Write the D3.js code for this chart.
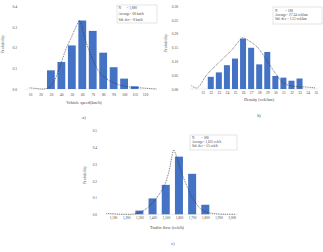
<!DOCTYPE html>
<html><head><meta charset="utf-8">
<script src="https://cdn.jsdelivr.net/npm/d3@7"></script>
<style>body{margin:0;background:#fff}svg{display:block}text{font-family:"Liberation Serif","DejaVu Serif",serif;fill:#444}</style>
</head><body><svg id="c" width="323" height="252"></svg>
<script>
// Panel a: vehicle speed
const speedTicks = [10,20,30,40,50,60,70,80,90,100,110,120];
const speedCats = [30,40,50,60,70,80,90,100,110];
const speedProb = [0.09,0.13,0.21,0.33,0.28,0.175,0.105,0.05,0.013];
const speedCurveX = [9.5,13,22.7,27.5,32.3,38.7,45,49.7,55,57.4,62.7,69,76.6,86,98.8,115,131];
const speedCurveY = [0.006,0.004,0.0,0.006,0.03,0.11,0.2,0.25,0.31,0.33,0.24,0.155,0.08,0.04,0.015,0.006,0.0];
const speedYTicks = ["0.0","0.1","0.2","0.3","0.4"];
const speedLegend = ["N", "= 1,880", "Average= 60 km/h", "Std. dev = 8 km/h"];

// Panel b: density
const densTicks = [21,22,23,24,25,26,27,28,29,30,31,32,33,34,35];
const densCats = [22,23,24,25,26,27,28,29,30,31,32,33];
const densProb = [0.044,0.06,0.086,0.11,0.182,0.149,0.089,0.134,0.047,0.041,0.03,0.038];
const densCurveX = [19.6,20.3,21.5,22.9,24.6,25.8,26.0,27.7,28.9,30.0,31.0,32.2,33.9,34.9];
const densCurveY = [0.012,0.004,0.051,0.093,0.141,0.183,0.185,0.153,0.105,0.057,0.022,0.01,0.007,0.004];
const densYTicks = ["0.00","0.05","0.10","0.15","0.20","0.25","0.30"];
const densLegend = ["N", "= 188", "Average= 27.34 veh/km", "Std. dev = 1.51 veh/km"];

// Panel c: traffic flow
const flowTicks = [1100,1200,1300,1400,1500,1600,1700,1800,1900,2000];
const flowCats = [1300,1400,1500,1600,1700,1800];
const flowProb = [0.022,0.095,0.176,0.345,0.242,0.057];
const flowCurveX = [1050,1175,1275,1350,1425,1487,1525,1550,1560,1580,1612,1650,1712,1775,1850,2025];
const flowCurveY = [0.006,0.0,0.004,0.032,0.093,0.168,0.259,0.36,0.384,0.35,0.269,0.188,0.087,0.026,0.006,0.0];
const flowYTicks = ["0.0","0.1","0.2","0.3","0.4","0.5"];
const flowLegend = ["N", "= 188", "Average= 1,625 veh/h", "Std. dev = 55 veh/h"];

const svg = d3.select("#c");
const fmt = d3.format(",");

function panel(o){
  const g = svg.append("g");
  const x = d3.scaleLinear().domain(o.xd).range(o.xr);
  const y = d3.scaleLinear().domain(o.yd).range(o.yr);
  // baseline
  g.append("line").attr("x1",o.axisX[0]).attr("x2",o.axisX[1])
    .attr("y1",y(0)).attr("y2",y(0)).attr("stroke","#d9d9d9").attr("stroke-width",0.5);
  // y ticks
  const yt = o.yTicks.map(Number);
  g.append("g").attr("transform",`translate(${o.yLabelX},0)`)
    .call(d3.axisLeft(y).tickValues(yt).tickSize(0).tickFormat((d,i)=>o.yTicks[i]))
    .call(a=>a.select(".domain").remove())
    .call(a=>a.selectAll("text").attr("font-size",o.fs).attr("fill","#555").attr("font-family","Liberation Serif").attr("dy","0.35em").attr("x",0));
  // x ticks
  g.append("g").attr("transform",`translate(0,${o.xLabelY})`)
    .call(d3.axisBottom(x).tickValues(o.xTicks).tickSize(0).tickFormat(o.xfmt))
    .call(a=>a.select(".domain").remove())
    .call(a=>a.selectAll("text").attr("font-size",o.fs).attr("fill","#555").attr("font-family","Liberation Serif").attr("dy","0.7em").attr("y",0));
  // bars
  g.selectAll("rect.bar").data(o.cats).join("rect")
    .attr("x",d=>x(d)-o.bw/2).attr("width",o.bw)
    .attr("y",(d,i)=>y(o.vals[i])).attr("height",(d,i)=>y(0)-y(o.vals[i]))
    .attr("fill","#4472c4");
  // curve
  const pts = o.cx.map((v,i)=>[x(v),y(o.cy[i])]);
  g.append("path").attr("d",d3.line().curve(d3.curveCatmullRom)(pts))
    .attr("fill","none").attr("stroke","#333").attr("stroke-width",0.7).attr("stroke-dasharray","0.9,0.9");
  // legend
  const L = o.leg;
  g.append("rect").attr("x",L.x).attr("y",L.y).attr("width",L.w).attr("height",L.h)
    .attr("fill","#fff").attr("stroke","#bfbfbf").attr("stroke-width",0.4);
  g.append("text").attr("x",L.tx).attr("y",L.ly[0]).attr("font-size",L.fs).text(o.legend[0]);
  g.append("text").attr("x",L.eqx).attr("y",L.ly[0]).attr("font-size",L.fs).text(o.legend[1]);
  g.append("text").attr("x",L.tx).attr("y",L.ly[1]).attr("font-size",L.fs).text(o.legend[2]);
  g.append("text").attr("x",L.tx).attr("y",L.ly[2]).attr("font-size",L.fs).text(o.legend[3]);
  // y title
  g.append("text").attr("transform",`translate(${o.ytX},${o.ytY}) rotate(-90)`)
    .attr("text-anchor","middle").attr("font-size",4).text("Probability");
  // x title
  g.append("text").attr("x",o.xtX).attr("y",o.xtY).attr("text-anchor","middle").attr("font-size",4.3).text(o.xTitle);
  g.append("text").attr("x",o.lbX).attr("y",o.lbY).attr("text-anchor","middle").attr("font-size",4.3).text(o.label);
}

panel({xd:[10,120],xr:[30,145],yd:[0,0.4],yr:[89,6],axisX:[25,157],yLabelX:17,xLabelY:93,fs:3.6,
  xTicks:speedTicks,xfmt:d=>d,yTicks:speedYTicks,cats:speedCats,vals:speedProb,bw:7.8,
  cx:speedCurveX,cy:speedCurveY,legend:speedLegend,
  leg:{x:117,y:5,w:40,h:18,tx:118.5,eqx:126.5,ly:[9,15,20.5],fs:3.4},
  ytX:4,ytY:44,xtX:84,xtY:104,xTitle:"Vehicle speed(km/h)",lbX:84,lbY:119,label:"a)"});

panel({xd:[21,35],xr:[202.7,315.7],yd:[0,0.30],yr:[89,6],axisX:[190,318],yLabelX:178,xLabelY:91,fs:3.6,
  xTicks:densTicks,xfmt:d=>d,yTicks:densYTicks,cats:densCats,vals:densProb,bw:6,
  cx:densCurveX,cy:densCurveY,legend:densLegend,
  leg:{x:273,y:7,w:49,h:17,tx:275,eqx:285,ly:[11.5,15.5,19.5],fs:3.4},
  ytX:167,ytY:43,xtX:259,xtY:101,xTitle:"Density (veh/km)",lbX:259,lbY:117,label:"b)"});

panel({xd:[1100,2000],xr:[113,231.7],yd:[0,0.5],yr:[214.3,130.7],axisX:[105,238],yLabelX:97,xLabelY:217,fs:3.4,
  xTicks:flowTicks,xfmt:fmt,yTicks:flowYTicks,cats:flowCats,vals:flowProb,bw:8,
  cx:flowCurveX,cy:flowCurveY,legend:flowLegend,
  leg:{x:190,y:135,w:47,h:15,tx:192,eqx:201,ly:[138.7,142.7,146.7],fs:3.3},
  ytX:86,ytY:175,xtX:167,xtY:228.5,xTitle:"Traffic flow (veh/h)",lbX:173,lbY:245,label:"c)"});
</script></body></html>
